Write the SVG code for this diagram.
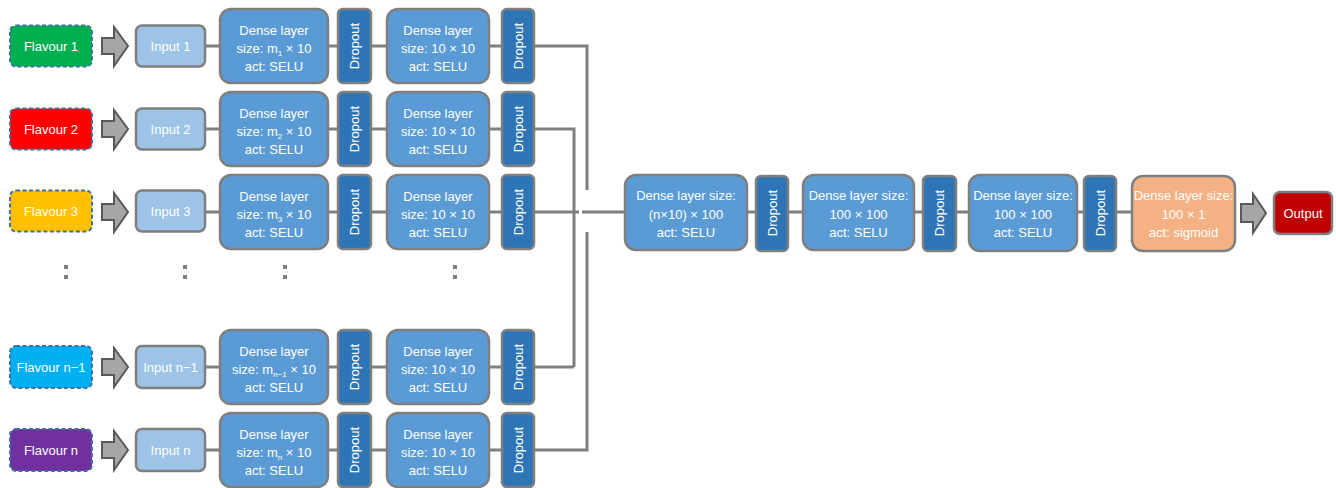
<svg xmlns="http://www.w3.org/2000/svg" width="1336" height="488" viewBox="0 0 1336 488">
<style>
text{font-family:"Liberation Sans",Arial,sans-serif;font-size:13px;fill:#fff;text-anchor:middle}
.fl{stroke:#41719C;stroke-width:2;stroke-dasharray:4 2.5}
.inp{fill:#9DC3E6;stroke:#7F7F7F;stroke-width:2.5}
.den{fill:#5B9BD5;stroke:#7F7F7F;stroke-width:2.5}
.dro{fill:#2E75B6;stroke:#7F7F7F;stroke-width:2.5}
.out{fill:#F4B183;stroke:#7F7F7F;stroke-width:2.5}
.arr{fill:#A6A6A6;stroke:#595959;stroke-width:2}
.ln{fill:none;stroke:#7F7F7F;stroke-width:3}
.dot{fill:#7F7F7F}
.sub{font-size:8px}
</style>
<g id="connectors">
<path class="ln" d="M205 46H220M328 46H338M371 46H387M489 46H502M534 46H587V190"/>
<path class="ln" d="M205 129H220M328 129H338M371 129H387M489 129H502M534 129H574V367"/>
<path class="ln" d="M205 212H220M328 212H338M371 212H387M489 212H502M534 212H579M582 212H625"/>
<path class="ln" d="M205 367H220M328 367H338M371 367H387M489 367H502M534 367H574"/>
<path class="ln" d="M205 450H220M328 450H338M371 450H387M489 450H502M534 450H587V232"/>
<path class="ln" d="M747 212H756M788 212H803M914 212H923M956 212H969M1077 212H1084M1116 212H1132"/>
</g>
<g id="dots">
<rect class="dot" x="64" y="265" width="4" height="4"/><rect class="dot" x="64" y="275" width="4" height="4"/>
<rect class="dot" x="183" y="265" width="4" height="4"/><rect class="dot" x="183" y="275" width="4" height="4"/>
<rect class="dot" x="283" y="265" width="4" height="4"/><rect class="dot" x="283" y="275" width="4" height="4"/>
<rect class="dot" x="453" y="265" width="4" height="4"/><rect class="dot" x="453" y="275" width="4" height="4"/>
</g>
<!-- Row 1 -->
<g id="flavour1"><rect class="fl" x="10" y="25.5" width="82" height="41" rx="6" fill="#00B050"/><text x="51" y="50.5">Flavour 1</text></g>
<g id="arrow1"><polygon class="arr" points="102,38 114,38 114,27 128,46 114,66 114,54 102,54"/></g>
<g id="input1"><rect class="inp" x="136" y="25.5" width="69" height="41" rx="6"/><text x="170.5" y="51">Input 1</text></g>
<g id="dense1a"><rect class="den" x="220" y="9" width="108" height="74" rx="11"/><text x="274" y="34.5">Dense layer</text><text x="274" y="52.5">size: m<tspan class="sub" dy="3">1</tspan><tspan dy="-3"> × 10</tspan></text><text x="274" y="70.5">act: SELU</text></g>
<g id="drop1a"><rect class="dro" x="338" y="9" width="33" height="74" rx="5"/><text transform="translate(359,46) rotate(-90)">Dropout</text></g>
<g id="dense1b"><rect class="den" x="387" y="9" width="102" height="74" rx="11"/><text x="438" y="34.5">Dense layer</text><text x="438" y="52.5">size: 10 × 10</text><text x="438" y="70.5">act: SELU</text></g>
<g id="drop1b"><rect class="dro" x="502" y="9" width="32" height="74" rx="5"/><text transform="translate(522.5,46) rotate(-90)">Dropout</text></g>
<!-- Row 2 -->
<g id="flavour2"><rect class="fl" x="10" y="108.5" width="82" height="41" rx="6" fill="#FF0000"/><text x="51" y="133.5">Flavour 2</text></g>
<g id="arrow2"><polygon class="arr" points="102,121 114,121 114,110 128,129 114,149 114,137 102,137"/></g>
<g id="input2"><rect class="inp" x="136" y="108.5" width="69" height="41" rx="6"/><text x="170.5" y="134">Input 2</text></g>
<g id="dense2a"><rect class="den" x="220" y="92" width="108" height="74" rx="11"/><text x="274" y="117.5">Dense layer</text><text x="274" y="135.5">size: m<tspan class="sub" dy="3">2</tspan><tspan dy="-3"> × 10</tspan></text><text x="274" y="153.5">act: SELU</text></g>
<g id="drop2a"><rect class="dro" x="338" y="92" width="33" height="74" rx="5"/><text transform="translate(359,129) rotate(-90)">Dropout</text></g>
<g id="dense2b"><rect class="den" x="387" y="92" width="102" height="74" rx="11"/><text x="438" y="117.5">Dense layer</text><text x="438" y="135.5">size: 10 × 10</text><text x="438" y="153.5">act: SELU</text></g>
<g id="drop2b"><rect class="dro" x="502" y="92" width="32" height="74" rx="5"/><text transform="translate(522.5,129) rotate(-90)">Dropout</text></g>
<!-- Row 3 -->
<g id="flavour3"><rect class="fl" x="10" y="190.5" width="82" height="41" rx="6" fill="#FFC000"/><text x="51" y="215.5">Flavour 3</text></g>
<g id="arrow3"><polygon class="arr" points="102,204 114,204 114,193 128,212 114,232 114,220 102,220"/></g>
<g id="input3"><rect class="inp" x="136" y="190.5" width="69" height="41" rx="6"/><text x="170.5" y="216">Input 3</text></g>
<g id="dense3a"><rect class="den" x="220" y="175" width="108" height="74" rx="11"/><text x="274" y="200.5">Dense layer</text><text x="274" y="218.5">size: m<tspan class="sub" dy="3">3</tspan><tspan dy="-3"> × 10</tspan></text><text x="274" y="236.5">act: SELU</text></g>
<g id="drop3a"><rect class="dro" x="338" y="175" width="33" height="74" rx="5"/><text transform="translate(359,212) rotate(-90)">Dropout</text></g>
<g id="dense3b"><rect class="den" x="387" y="175" width="102" height="74" rx="11"/><text x="438" y="200.5">Dense layer</text><text x="438" y="218.5">size: 10 × 10</text><text x="438" y="236.5">act: SELU</text></g>
<g id="drop3b"><rect class="dro" x="502" y="175" width="32" height="74" rx="5"/><text transform="translate(522.5,212) rotate(-90)">Dropout</text></g>
<!-- Row n-1 -->
<g id="flavourn1"><rect class="fl" x="10" y="346" width="82" height="42" rx="6" fill="#00B0F0"/><text x="51" y="371.5">Flavour n−1</text></g>
<g id="arrown1"><polygon class="arr" points="102,359 114,359 114,348 128,367 114,387 114,375 102,375"/></g>
<g id="inputn1"><rect class="inp" x="136" y="346" width="69" height="42" rx="6"/><text x="170.5" y="372">Input n−1</text></g>
<g id="densen1a"><rect class="den" x="220" y="330" width="108" height="74" rx="11"/><text x="274" y="355.5">Dense layer</text><text x="274" y="373.5">size: m<tspan class="sub" dy="3">n−1</tspan><tspan dy="-3"> × 10</tspan></text><text x="274" y="391.5">act: SELU</text></g>
<g id="dropn1a"><rect class="dro" x="338" y="330" width="33" height="74" rx="5"/><text transform="translate(359,367) rotate(-90)">Dropout</text></g>
<g id="densen1b"><rect class="den" x="387" y="330" width="102" height="74" rx="11"/><text x="438" y="355.5">Dense layer</text><text x="438" y="373.5">size: 10 × 10</text><text x="438" y="391.5">act: SELU</text></g>
<g id="dropn1b"><rect class="dro" x="502" y="330" width="32" height="74" rx="5"/><text transform="translate(522.5,367) rotate(-90)">Dropout</text></g>
<!-- Row n -->
<g id="flavourn"><rect class="fl" x="10" y="429" width="82" height="42" rx="6" fill="#7030A0"/><text x="51" y="454.5">Flavour n</text></g>
<g id="arrown"><polygon class="arr" points="102,442 114,442 114,431 128,450 114,470 114,458 102,458"/></g>
<g id="inputn"><rect class="inp" x="136" y="429" width="69" height="42" rx="6"/><text x="170.5" y="455">Input n</text></g>
<g id="densena"><rect class="den" x="220" y="413" width="108" height="74" rx="11"/><text x="274" y="438.5">Dense layer</text><text x="274" y="456.5">size: m<tspan class="sub" dy="3">n</tspan><tspan dy="-3"> × 10</tspan></text><text x="274" y="474.5">act: SELU</text></g>
<g id="dropna"><rect class="dro" x="338" y="413" width="33" height="74" rx="5"/><text transform="translate(359,450) rotate(-90)">Dropout</text></g>
<g id="densenb"><rect class="den" x="387" y="413" width="102" height="74" rx="11"/><text x="438" y="438.5">Dense layer</text><text x="438" y="456.5">size: 10 × 10</text><text x="438" y="474.5">act: SELU</text></g>
<g id="dropnb"><rect class="dro" x="502" y="413" width="32" height="74" rx="5"/><text transform="translate(522.5,450) rotate(-90)">Dropout</text></g>
<!-- Shared chain -->
<g id="denseA"><rect class="den" x="625" y="175" width="122" height="75" rx="11"/><text x="686" y="199.5">Dense layer size:</text><text x="686" y="218.5">(n×10) × 100</text><text x="686" y="236.5">act: SELU</text></g>
<g id="dropA"><rect class="dro" x="756" y="176" width="32" height="75" rx="5"/><text transform="translate(776.5,213) rotate(-90)">Dropout</text></g>
<g id="denseB"><rect class="den" x="803" y="175" width="111" height="75" rx="11"/><text x="858.5" y="199.5">Dense layer size:</text><text x="858.5" y="218.5">100 × 100</text><text x="858.5" y="236.5">act: SELU</text></g>
<g id="dropB"><rect class="dro" x="923" y="176" width="33" height="75" rx="5"/><text transform="translate(944,213) rotate(-90)">Dropout</text></g>
<g id="denseC"><rect class="den" x="969" y="175" width="108" height="76" rx="11"/><text x="1023" y="199.5">Dense layer size:</text><text x="1023" y="218.5">100 × 100</text><text x="1023" y="236.5">act: SELU</text></g>
<g id="dropC"><rect class="dro" x="1084" y="176" width="32" height="75" rx="5"/><text transform="translate(1104.5,213) rotate(-90)">Dropout</text></g>
<g id="denseD"><rect class="out" x="1132" y="176" width="103" height="75" rx="11"/><text x="1183.5" y="199.5">Dense layer size:</text><text x="1183.5" y="218.5">100 × 1</text><text x="1183.5" y="236.5">act: sigmoid</text></g>
<g id="arrowOut"><polygon class="arr" points="1241,204 1253,204 1253,194 1266,213 1253,233 1253,222 1241,222"/></g>
<g id="output"><rect x="1274" y="192" width="58" height="42" rx="6" fill="#C00000" stroke="#7F7F7F" stroke-width="2.5"/><text x="1303" y="217.5">Output</text></g>
</svg>
